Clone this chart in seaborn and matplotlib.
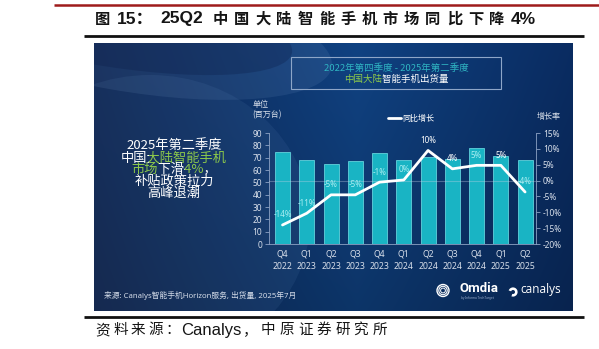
import numpy as np
import pandas as pd
import matplotlib
matplotlib.use("Agg")
import matplotlib.pyplot as plt
import seaborn as sns
from matplotlib.patches import Rectangle, Circle, Ellipse, Wedge

# ---------------- data ----------------
quarters = ["Q4\n2022", "Q1\n2023", "Q2\n2023", "Q3\n2023", "Q4\n2023", "Q1\n2024",
            "Q2\n2024", "Q3\n2024", "Q4\n2024", "Q1\n2025", "Q2\n2025"]
shipments = [75, 68, 64.5, 67, 74, 68, 70.5, 69, 77.5, 71, 68]          # 百万台
yoy = [-14.0, -10.3, -4.5, -4.5, -0.5, 0.2, 9.5, 3.7, 4.8, 4.8, -3.6]    # %
yoy_labels = ["-14%", "-11%", "-5%", "-5%", "-1%", "0%", "10%", "4%", "5%", "5%", "-4%"]
left_ticks = [0, 10, 20, 30, 40, 50, 60, 70, 80, 90]
right_ticks = [-20, -15, -10, -5, 0, 5, 10, 15]

title_prefix = "图"
title_num = "15："
title_code = "25Q2"
title_cn = "中国大陆智能手机市场同比下降"
title_end = "4%"

CJK = ["Noto Sans CJK SC", "DejaVu Sans"]
LAT = ["Noto Sans", "Noto Sans CJK SC", "DejaVu Sans"]
ARI = ["Liberation Sans", "Noto Sans CJK SC", "DejaVu Sans"]

sns.set_theme(style="white")
plt.rcParams["font.family"] = LAT

fig = plt.figure(figsize=(5.99, 3.49), dpi=100)
fig.patch.set_facecolor("white")
bg = fig.add_axes([0, 0, 1, 1])
bg.set_xlim(0, 599)
bg.set_ylim(349, 0)
bg.axis("off")
R = fig.canvas.get_renderer()

# ---------------- page decorations ----------------
bg.plot([54, 599], [5, 5], color="#9e1b1b", lw=1.8, solid_capstyle="butt")
bg.plot([84, 584], [35.5, 35.5], color="#111111", lw=2.0, solid_capstyle="butt")
bg.plot([84, 584], [317, 317], color="#111111", lw=2.0, solid_capstyle="butt")

TY = 19
bg.text(95, TY, title_prefix, family=CJK, fontsize=11, fontweight="bold", color="#151515", ha="left", va="center")
bg.text(117, TY, title_num, family=ARI, fontsize=12.5, fontweight="bold", color="#151515", ha="left", va="center")
bg.text(160, TY, title_code, family=ARI, fontsize=12.5, fontweight="bold", color="#151515", ha="left", va="center")
for k, ch in enumerate(title_cn):
    bg.text(220 + k * 21.3, TY, ch, family=CJK, fontsize=11, fontweight="bold", color="#151515", ha="center", va="center")
bg.text(511, TY, title_end, family=ARI, fontsize=12.5, fontweight="bold", color="#151515", ha="left", va="center")

SY = 330
for k, ch in enumerate("资料来源："):
    bg.text(103 + k * 17.5, SY, ch, family=CJK, fontsize=10.5, color="#151515", ha="center", va="center")
bg.text(181, SY, "Canalys", family=ARI, fontsize=12, color="#151515", ha="left", va="center")
bg.text(250, SY, "，", family=CJK, fontsize=10.5, color="#151515", ha="center", va="center")
for k, ch in enumerate("中原证券研究所"):
    bg.text(268 + k * 18.6, SY, ch, family=CJK, fontsize=10.5, color="#151515", ha="center", va="center")

# ---------------- panel background ----------------
PX0, PX1, PY0, PY1 = 94, 573, 43, 311
W, H = 480, 268
xs = np.linspace(0, 1, W)[None, :]
ys = np.linspace(0, 1, H)[:, None]
c_left = np.array([14, 38, 84]) / 255
c_mid = np.array([16, 66, 130]) / 255
c_right = np.array([10, 44, 98]) / 255
t1 = np.clip(xs / 0.55, 0, 1)
t2 = np.clip((xs - 0.55) / 0.45, 0, 1)
img = np.where((xs < 0.55)[..., None],
               c_left * (1 - t1[..., None]) + c_mid * t1[..., None],
               c_mid * (1 - t2[..., None]) + c_right * t2[..., None])
shade = (1.0 - 0.2 * ys)[..., None]
img = img * shade
img = np.broadcast_to(img, (H, W, 3)).copy()
img = np.clip(img, 0, 1)
bg.imshow(img, extent=(PX0, PX1, PY1, PY0), aspect="auto", zorder=0)
panel = Rectangle((PX0, PY0), PX1 - PX0, PY1 - PY0, transform=bg.transData, fc="none", ec="none")
bg.add_patch(panel)
for patch in [Ellipse((150, 220), 320, 290, fc="#7aa3d6", alpha=0.09, ec="none"),
              Ellipse((120, 30), 430, 120, angle=10, fc="#9cc0ea", alpha=0.10, ec="none"),
              Ellipse((95, 18), 400, 92, angle=10, fc="#0b1d48", alpha=0.30, ec="none")]:
    bg.add_patch(patch)
    patch.set_clip_path(panel)
    patch.set_zorder(1)

# box with chart title
bg.add_patch(Rectangle((291, 57), 210, 32, fc="none", ec="#8ea6c8", lw=0.8, zorder=2))


def width(s, size, family, weight):
    t = bg.text(0, 0, s, fontsize=size, family=family, fontweight=weight)
    w = t.get_window_extent(R).width
    t.remove()
    return w


def run(x, y, pieces, size, family=CJK, weight="normal"):
    """Centered line whose parts have different colours: the whole line is drawn once per
    colour and clipped to that part's horizontal range, so spacing stays natural."""
    full = "".join(s for s, _ in pieces)
    total = width(full, size, family, weight)
    x0 = x - total / 2
    bounds = [x0 - 20]
    prefix = ""
    for s, _ in pieces[:-1]:
        prefix += s
        bounds.append(x0 + width(prefix, size, family, weight) + 1.0)
    bounds.append(x0 + total + 20)
    for (s, c), a, b in zip(pieces, bounds[:-1], bounds[1:]):
        t = bg.text(x0, y, full, color=c, fontsize=size, family=family, fontweight=weight,
                    ha="left", va="center", zorder=3, clip_on=True)
        clip = Rectangle((a, y - 15), b - a, 30, transform=bg.transData, fc="none", ec="none")
        t.set_clip_path(clip)
        t.set_clip_on(True)


GREEN = "#8cc84b"
TEAL = "#2fb4c2"
run(396, 68, [("2022年第四季度 - 2025年第二季度", TEAL)], 6.8)
run(396, 79.5, [("中国大陆", GREEN), ("智能手机出货量", "white")], 6.8)

run(174, 146, [("2025年第二季度", "white")], 9.5)
run(174, 158, [("中国", "white"), ("大陆智能手机", GREEN)], 9.5)
run(174, 169.5, [("市场", GREEN), ("下滑", "white"), ("4%", GREEN), ("，", "white")], 9.5)
run(174, 181, [("补贴政策拉力", "white")], 9.5)
run(174, 193, [("高峰退潮", "white")], 9.5)

bg.text(104, 295, "来源: Canalys智能手机Horizon服务, 出货量, 2025年7月", family=LAT,
        fontsize=5.6, color="#d3dbe8", ha="left", va="center", zorder=3)

# logos
for r, lw in [(6, 1.0), (4.2, 0.8), (2.4, 0.7)]:
    bg.add_patch(Circle((443, 290.5), r, fc="none", ec="white", lw=lw, zorder=3))
bg.text(460, 289, "Omdia", family=["Roboto", "DejaVu Sans"], fontsize=9.5, fontweight="bold",
        color="white", ha="left", va="center", zorder=3)
bg.text(461, 298.5, "by Informa TechTarget", family=LAT, fontsize=2.2, color="#9fb2d0",
        ha="left", va="center", zorder=3)
bg.add_patch(Wedge((513, 292), 4.6, 200, 110, width=2.6, fc="white", ec="none", zorder=3))
bg.text(520, 290, "canalys", family=["Open Sans", "Noto Sans"], fontsize=8.5, color="white",
        ha="left", va="center", zorder=3)

# axis captions / legend
TXT = "#d8dfea"
bg.text(253, 105, "单位", family=CJK, fontsize=5.8, color=TXT, ha="left", va="center", zorder=3)
bg.text(252, 115, "(百万台)", family=CJK, fontsize=5.8, color=TXT, ha="left", va="center", zorder=3)
bg.text(537, 117, "增长率", family=CJK, fontsize=5.8, color=TXT, ha="left", va="center", zorder=3)

# ---------------- chart ----------------
df = pd.DataFrame({"quarter": quarters, "shipments": shipments, "yoy": yoy})
ax = fig.add_axes([269 / 599, 1 - 244 / 349, 267 / 599, 111 / 349])
ax.set_facecolor("none")
sns.barplot(data=df, x="quarter", y="shipments", ax=ax, color="#19b4c4", saturation=1,
            width=0.62, edgecolor="#62d2dc", linewidth=0.6, zorder=2)
ax.set_ylim(0, 90)
ax.set_yticks(left_ticks)
ax.set_xlabel("")
ax.set_ylabel("")

ax2 = ax.twinx()
ax2.set_facecolor("none")
sns.lineplot(x=np.arange(len(yoy)), y=yoy, ax=ax2, color="white", lw=2.0, label="同比增长",
             legend=False, zorder=4)
ax2.axhline(0, color="#c8d3e6", alpha=0.35, lw=0.8, zorder=1)
ax2.set_ylim(-20, 15)
ax2.set_yticks(right_ticks)
ax2.set_yticklabels([f"{v}%" for v in right_ticks])
ax2.set_ylabel("")
ax.set_xlim(-0.557, 10.45)

SP = "#8da2c4"
for a in (ax, ax2):
    for s in a.spines.values():
        s.set_visible(False)
ax.spines["left"].set_visible(True)
ax.spines["bottom"].set_visible(True)
ax2.spines["right"].set_visible(True)
for s in (ax.spines["left"], ax.spines["bottom"], ax2.spines["right"]):
    s.set_color(SP)
    s.set_linewidth(0.6)

ax.tick_params(axis="y", colors=SP, labelcolor=TXT, labelsize=6, length=3, width=0.6, pad=2, left=True)
ax.tick_params(axis="x", length=0, pad=4, labelsize=6.2, labelcolor=TXT)
ax2.tick_params(axis="y", colors=SP, labelcolor=TXT, labelsize=6, length=3, width=0.6, pad=2, right=True)
for lbl in ax.get_xticklabels():
    lbl.set_linespacing(1.45)
for lbl in ax.get_yticklabels() + ax2.get_yticklabels():
    lbl.set_family(LAT)

for i, (v, lab, s) in enumerate(zip(yoy, yoy_labels, shipments)):
    bar_pct = s / 90 * 35 - 20
    col = "white" if v + 4.6 > bar_pct else "#a9eef2"
    ax2.annotate(lab, (i, v), xytext=(0, 7.3), textcoords="offset points", ha="center",
                 va="center", fontsize=5.8, color=col, zorder=5)

h, l = ax2.get_legend_handles_labels()
if not h:
    from matplotlib.lines import Line2D
    h, l = [Line2D([], [], color="white", lw=2)], ["同比增长"]
leg = fig.legend(h, l, loc="center left", bbox_to_anchor=(388 / 599, 1 - 118 / 349), frameon=False,
                 labelcolor="white", handlelength=1.6, handletextpad=0.2,
                 borderaxespad=0, borderpad=0, prop={"family": CJK, "size": 5.8})

fig.savefig("out.png", dpi=100)
